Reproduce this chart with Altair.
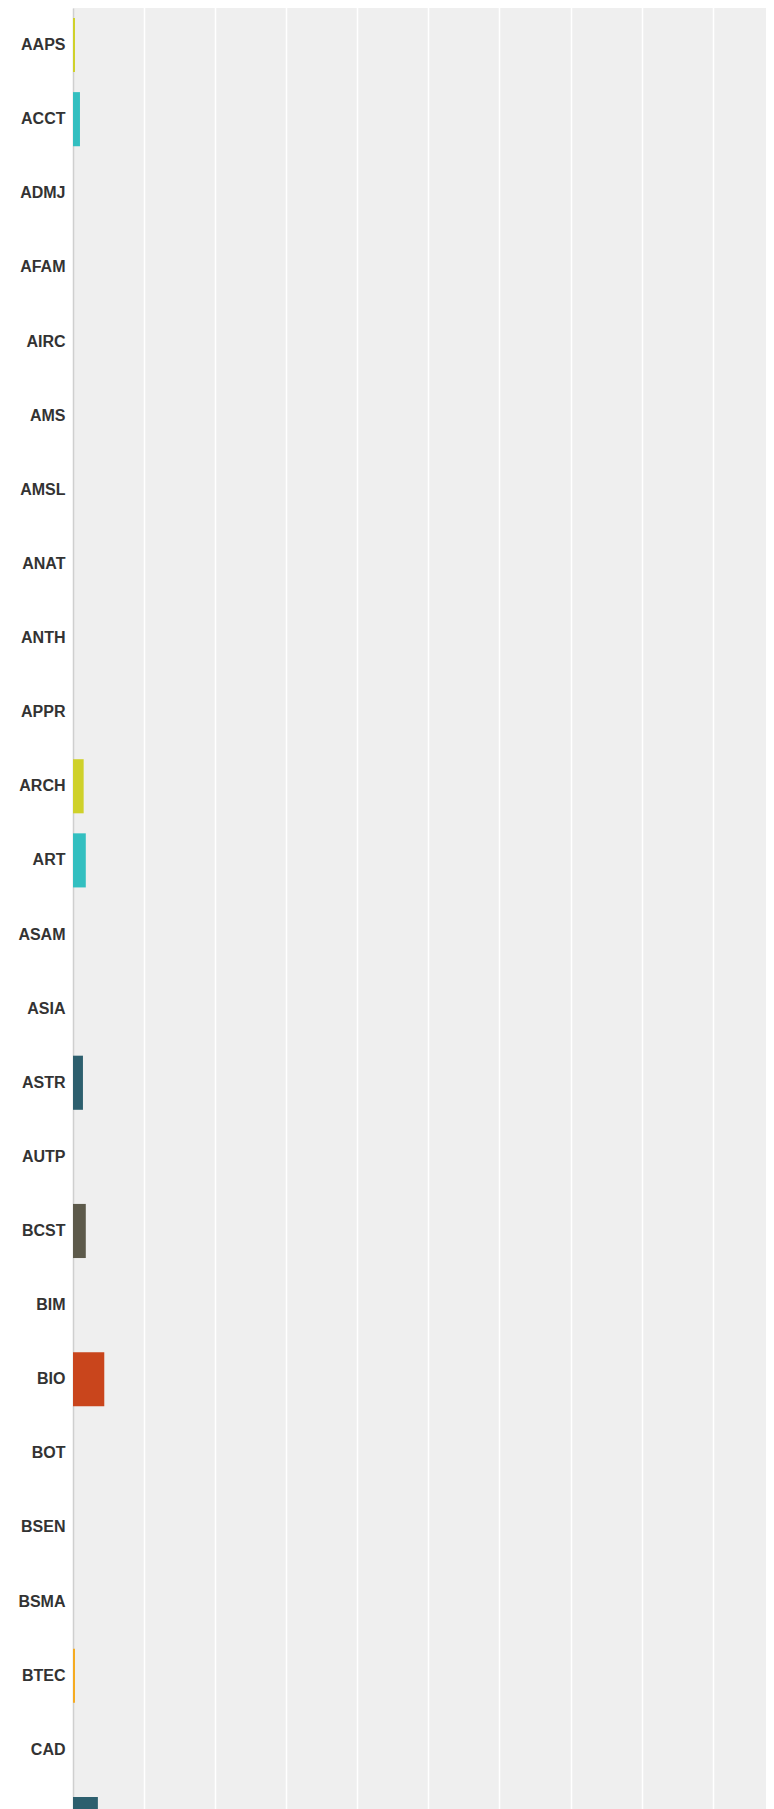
import altair as alt
import pandas as pd

courses = ["AAPS", "ACCT", "ADMJ", "AFAM", "AIRC", "AMS", "AMSL", "ANAT", "ANTH", "APPR",
           "ARCH", "ART", "ASAM", "ASIA", "ASTR", "AUTP", "BCST", "BIM", "BIO", "BOT",
           "BSEN", "BSMA", "BTEC", "CAD", "CHEM"]
values = [0.28, 0.98, 0, 0, 0, 0, 0, 0, 0, 0,
          1.5, 1.8, 0, 0, 1.4, 0, 1.8, 0, 4.4, 0,
          0, 0, 0.28, 0, 3.5]
visible_labels = courses[:24]
grid_values = [10, 20, 30, 40, 50, 60, 70, 80, 90]
palette = ["#cfd12a", "#33bfc0", "#f5ab20", "#8a9a5b", "#2d5f6e",
           "#7fb0c9", "#5d5a4b", "#a3a3a3", "#c9451c", "#e0c98a"]

df = pd.DataFrame({"course": courses, "value": values})

chart = alt.Chart(df).mark_bar(clip=True).encode(
    x=alt.X("value:Q", scale=alt.Scale(domain=[0, 97.5], nice=False, zero=True),
            axis=alt.Axis(title=None, values=grid_values, grid=True, gridColor="#ffffff",
                          gridWidth=1.5, domain=False, ticks=False, labels=False)),
    y=alt.Y("course:N", sort=courses,
            scale=alt.Scale(paddingInner=0.27, paddingOuter=0.135, range=[0, 1853]),
            axis=alt.Axis(title=None, ticks=False, labelPadding=8, values=visible_labels,
                          labelFont="Liberation Sans", labelFontSize=16,
                          labelFontWeight="bold", labelColor="#333333",
                          domainColor="#cfcfcf", domainWidth=1.5, grid=False)),
    color=alt.Color("course:N", sort=courses,
                    scale=alt.Scale(domain=courses, range=palette), legend=None),
).properties(
    width=693, height=1801,
    autosize=alt.AutoSizeParams(type="none"),
    padding={"left": 65, "top": 0, "right": 0, "bottom": 0}
).configure_view(
    fill="#efefef", stroke=None
)

chart.save("out.html", embed_options={"renderer": "svg", "actions": False})
